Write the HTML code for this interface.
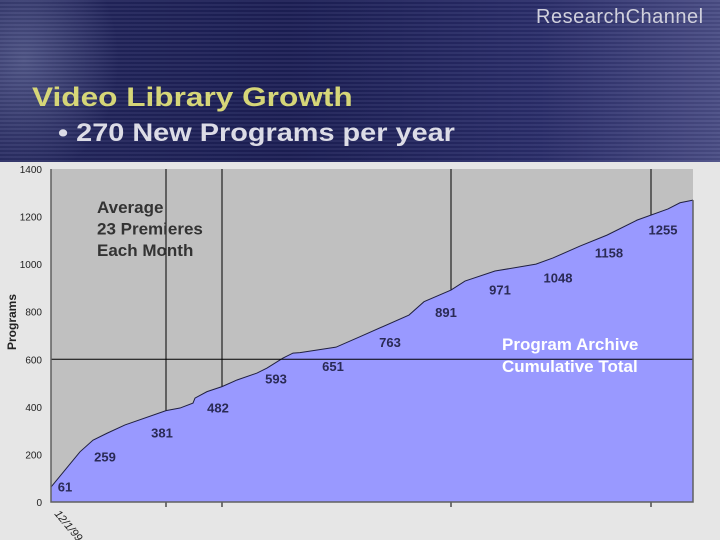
<!DOCTYPE html>
<html><head><meta charset="utf-8"><style>
body{margin:0;width:720px;height:540px;overflow:hidden;font-family:"Liberation Sans",sans-serif}
#hdr{position:absolute;left:0;top:0;width:720px;height:162px;background:linear-gradient(90deg,#24275e 0%,#1c1f55 40%,#2a2d6a 75%,#4a4d85 100%)}
#stripes{position:absolute;left:0;top:0;width:720px;height:162px;background:repeating-linear-gradient(180deg,rgba(255,255,255,0.05) 0 2px,rgba(0,0,0,0.05) 2px 4px)}
#glow{position:absolute;left:-40px;top:-20px;width:160px;height:200px;background:radial-gradient(ellipse at 40% 40%,rgba(160,170,210,0.35),rgba(0,0,0,0) 70%)}
</style></head><body>
<div id="hdr"><div id="glow"></div><div id="stripes"></div>
<div style="position:absolute;left:536px;top:6px;color:#d0d0dc;font-size:20px;letter-spacing:0.5px">ResearchChannel</div>
<div style="position:absolute;left:32px;top:82px;color:#d6d678;font-size:27px;font-weight:bold;transform:scaleX(1.17);transform-origin:left">Video Library Growth</div>
<div style="position:absolute;left:58px;top:119px;color:#dcdce6;font-size:25px;font-weight:bold;transform:scaleX(1.155);transform-origin:left">• 270 New Programs per year</div>
</div>
<svg id="chart" width="720" height="378" style="position:absolute;left:0;top:162px" viewBox="0 162 720 378"></svg>
<script>
const times=[0,29,42,56,74,115,129,142,144,156,171,186,206,216,232,242,249,285,309,358,373,400,414,444,485,502,529,556,586,617,629,642];
const values=[63,211,260,289,324,384,395,416,437,464,485,513,542,563,605,626,628,651,695,786,842,891,929,971,1000,1026,1076,1122,1185,1232,1258,1269];
const labelTexts=["61","259","381","482","593","651","763","891","971","1048","1158","1255"];
const labelTimes=[14,54,111,167,225,282,339,395,449,507,558,612];
const labelValues=[66,192,293,398,520,571,672,798,893,943,1050,1146];
const yTicks=[0,200,400,600,800,1000,1200,1400];
const gridTimes=[115,171,400,600];
const X0=51,X1=693,Y0=502,Y1=169;
const xs=t=>X0+t/642*(X1-X0);
const ys=v=>Y0-v/1400*(Y0-Y1);
const svg=document.getElementById('chart');const NS='http://www.w3.org/2000/svg';
function mk(tag,at){const e=document.createElementNS(NS,tag);for(const k in at)e.setAttribute(k,at[k]);svg.appendChild(e);return e;}
let r=mk('rect',{x:0,y:162,width:720,height:378,fill:'#e6e6e6'});


r=mk('rect',{x:X0,y:Y1,width:X1-X0,height:Y0-Y1,fill:'#c0c0c0'});


gridTimes.forEach(t=>{const l=mk('line',{x1:xs(t),x2:xs(t),y1:Y1,y2:Y0+5,stroke:'#000','stroke-width':1});

});
let d='M'+xs(times[0])+','+Y0;times.forEach((t,i)=>d+=' L'+xs(t)+','+ys(values[i]));d+=' L'+xs(times[times.length-1])+','+Y0+'Z';
const area=mk('path',{d:d,fill:'#9999ff'});


let ld='';times.forEach((t,i)=>ld+=(i?' L':'M')+xs(t)+','+ys(values[i]));
const line=mk('path',{d:ld,fill:'none',stroke:'#202040','stroke-width':1});


const hl=mk('line',{x1:X0,x2:X1,y1:ys(600),y2:ys(600),stroke:'#000','stroke-width':1});


const ax=mk('path',{d:`M${X0},${Y1} V${Y0} H${X1} V${ys(1269)}`,fill:'none',stroke:'#606060','stroke-width':1.5});


yTicks.forEach(v=>{const t=mk('text',{x:42,y:ys(v)+4,'text-anchor':'end','font-size':10,fill:'#222'});t.textContent=v;

});
labelTexts.forEach((s,i)=>{const t=mk('text',{x:xs(labelTimes[i]),y:ys(labelValues[i])+5,'text-anchor':'middle','font-size':13,'font-weight':'bold',fill:'#2a2a55'});t.textContent=s;

});
const yt=mk('text',{x:0,y:0,transform:'translate(16,322) rotate(-90)','text-anchor':'middle','font-size':12,'font-weight':'bold',fill:'#222'});yt.textContent='Programs';


const xl=mk('text',{x:0,y:0,transform:'translate(54,514) rotate(50)','font-size':11,fill:'#222','font-style':'italic'});xl.textContent='12/1/99';


['Average','23 Premieres','Each Month'].forEach((s,i)=>{const t=mk('text',{x:97,y:213+i*21.5,'font-size':17,'font-weight':'bold',fill:'#333'});t.textContent=s;

});
['Program Archive','Cumulative Total'].forEach((s,i)=>{const t=mk('text',{x:502,y:350+i*22,'font-size':17,'font-weight':'bold',fill:'#fff'});t.textContent=s;

});
</script>
</body></html>
